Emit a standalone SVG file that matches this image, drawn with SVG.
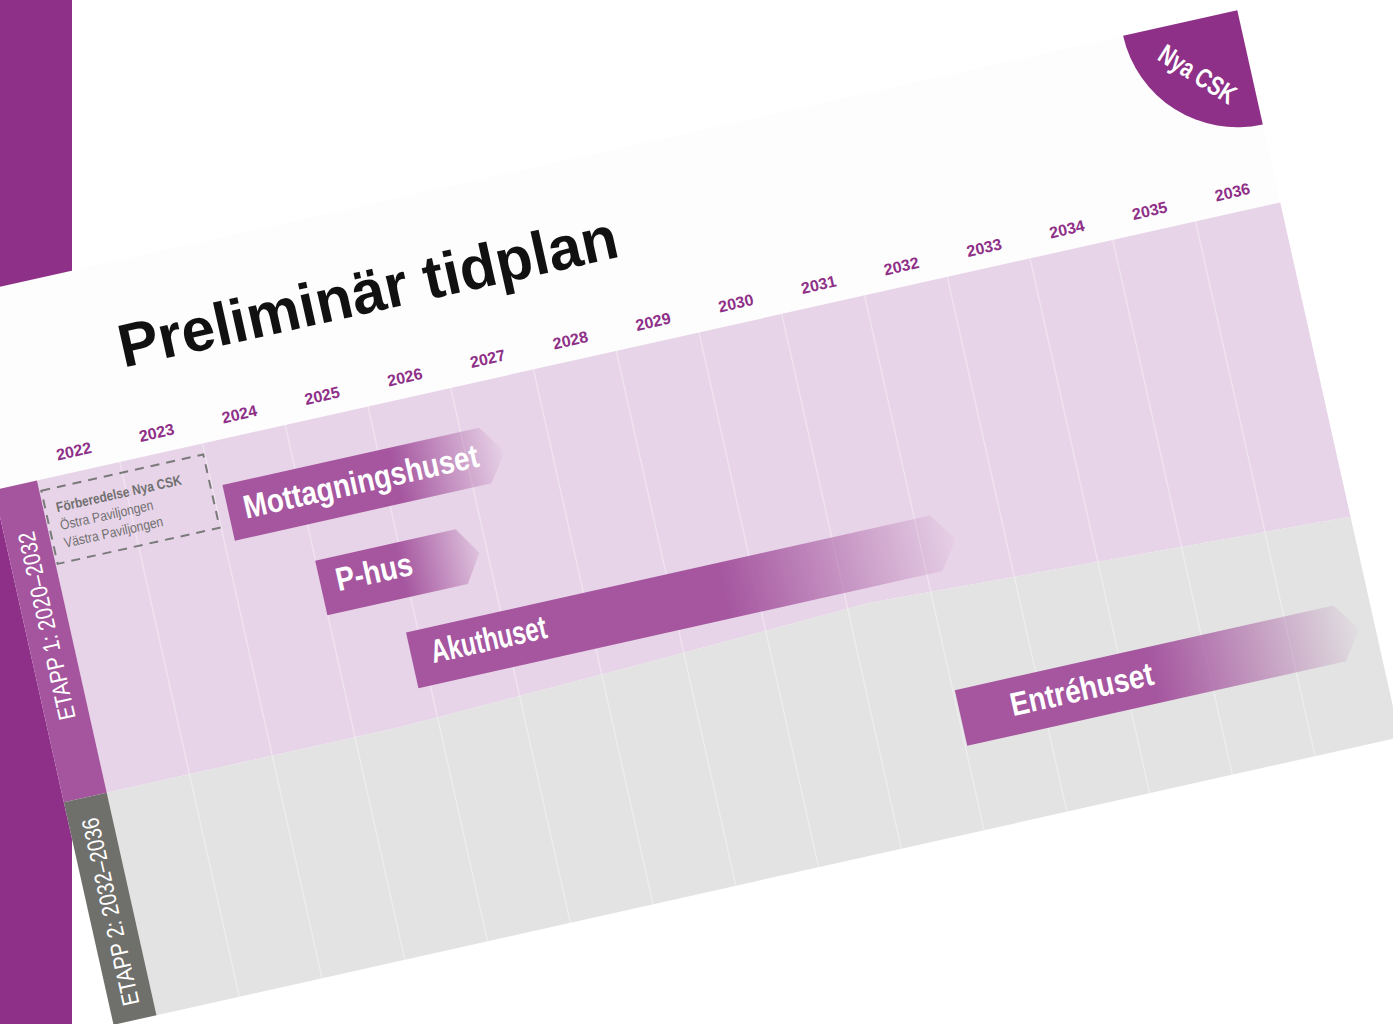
<svg xmlns="http://www.w3.org/2000/svg" width="1393" height="1024" viewBox="0 0 1393 1024">
<defs>
<style>
.yr{font-family:"Liberation Sans Narrow","Liberation Sans",Roboto,sans-serif;font-weight:bold;font-size:16px;fill:#8E2F88;text-anchor:middle}
.bar{font-family:"Liberation Sans Narrow","Liberation Sans",Roboto,sans-serif;font-weight:bold;font-size:33px;fill:#FFFFFF}
.etapp{font-family:"Liberation Sans Narrow","Liberation Sans",Roboto,sans-serif;font-size:24px;fill:#FFFFFF;text-anchor:middle}
.box{font-family:"Liberation Sans Narrow","Liberation Sans",Roboto,sans-serif;font-size:14px;fill:#707070}
.grid{stroke:#FFFFFF;stroke-opacity:0.4;stroke-width:1.2}
</style>
<linearGradient id="gM" gradientUnits="userSpaceOnUse" x1="395" y1="0" x2="508" y2="0">
<stop offset="0" stop-color="#A5569F" stop-opacity="1"/><stop offset="1" stop-color="#A5569F" stop-opacity="0"/>
</linearGradient>
<linearGradient id="gP" gradientUnits="userSpaceOnUse" x1="380" y1="0" x2="464" y2="0">
<stop offset="0" stop-color="#A5569F" stop-opacity="1"/><stop offset="1" stop-color="#A5569F" stop-opacity="0.1"/>
</linearGradient>
<linearGradient id="gA" gradientUnits="userSpaceOnUse" x1="690" y1="0" x2="935" y2="0">
<stop offset="0" stop-color="#A5569F" stop-opacity="1"/><stop offset="1" stop-color="#A5569F" stop-opacity="0"/>
</linearGradient>
<linearGradient id="gE" gradientUnits="userSpaceOnUse" x1="1090" y1="0" x2="1308" y2="0">
<stop offset="0" stop-color="#A5569F" stop-opacity="1"/><stop offset="1" stop-color="#A5569F" stop-opacity="0"/>
</linearGradient>
</defs>
<rect x="0" y="0" width="1393" height="1024" fill="#FFFFFF"/>
<rect x="0" y="0" width="72" height="1024" fill="#8E2F88"/>
<g transform="translate(-6,490) rotate(-12.6)">
  <g id="slide">
    <rect x="0" y="-197" width="1318" height="745" fill="#FDFDFD"/>
    <polygon points="44,0 1318,0 1318,322 830,301 600,311 344,320 44,320" fill="#E8D4E8"/>
    <polygon points="44,320 344,320 600,311 830,301 1318,322 1318,548 44,548" fill="#E3E3E3"/>
  </g>
  <g id="grid">
    <line class="grid" x1="128.8" y1="0" x2="128.8" y2="548"/>
    <line class="grid" x1="213.6" y1="0" x2="213.6" y2="548"/>
    <line class="grid" x1="298.4" y1="0" x2="298.4" y2="548"/>
    <line class="grid" x1="383.2" y1="0" x2="383.2" y2="548"/>
    <line class="grid" x1="468" y1="0" x2="468" y2="548"/>
    <line class="grid" x1="552.8" y1="0" x2="552.8" y2="548"/>
    <line class="grid" x1="637.6" y1="0" x2="637.6" y2="548"/>
    <line class="grid" x1="722.4" y1="0" x2="722.4" y2="548"/>
    <line class="grid" x1="807.2" y1="0" x2="807.2" y2="548"/>
    <line class="grid" x1="892" y1="0" x2="892" y2="548"/>
    <line class="grid" x1="976.8" y1="0" x2="976.8" y2="548"/>
    <line class="grid" x1="1061.6" y1="0" x2="1061.6" y2="548"/>
    <line class="grid" x1="1146.4" y1="0" x2="1146.4" y2="548"/>
    <line class="grid" x1="1231.2" y1="0" x2="1231.2" y2="548"/>
  </g>
  <g id="title">
    <text x="153" y="-91" font-family="'Liberation Sans',Arial,sans-serif" font-weight="bold" font-size="61" fill="#111111" textLength="510" lengthAdjust="spacingAndGlyphs">Preliminär tidplan</text>
  </g>
  <g id="years">
    <text class="yr" x="86.4" y="-15">2022</text>
    <text class="yr" x="171.2" y="-15">2023</text>
    <text class="yr" x="256" y="-15">2024</text>
    <text class="yr" x="340.8" y="-15">2025</text>
    <text class="yr" x="425.6" y="-15">2026</text>
    <text class="yr" x="510.4" y="-15">2027</text>
    <text class="yr" x="595.2" y="-15">2028</text>
    <text class="yr" x="680" y="-15">2029</text>
    <text class="yr" x="764.8" y="-15">2030</text>
    <text class="yr" x="849.6" y="-15">2031</text>
    <text class="yr" x="934.4" y="-15">2032</text>
    <text class="yr" x="1019.2" y="-15">2033</text>
    <text class="yr" x="1104" y="-15">2034</text>
    <text class="yr" x="1188.8" y="-15">2035</text>
    <text class="yr" x="1273.6" y="-15">2036</text>
  </g>
  <g id="logo">
    <path d="M1201,-197 A117,117 0 0 0 1318,-80 L1318,-197 Z" fill="#8E2F88"/>
    <text transform="translate(1265,-143) rotate(45)" x="0" y="9" font-family="'Liberation Sans Narrow','Liberation Sans',Roboto,sans-serif" font-weight="bold" font-size="27" fill="#FFFFFF" text-anchor="middle" textLength="86" lengthAdjust="spacingAndGlyphs">Nya CSK</text>
  </g>
  <g id="etapp1">
    <rect x="0" y="0" width="44" height="320" fill="#A4559E"/>
    <text class="etapp" transform="translate(22,144) rotate(-90)" x="0" y="8" textLength="192" lengthAdjust="spacingAndGlyphs">ETAPP 1: 2020–2032</text>
  </g>
  <g id="etapp2">
    <rect x="0" y="320" width="44" height="228" fill="#6F6F6B"/>
    <text class="etapp" transform="translate(22,437) rotate(-90)" x="0" y="8" textLength="192" lengthAdjust="spacingAndGlyphs">ETAPP 2: 2032–2036</text>
  </g>
  <g id="forberedelse">
    <rect x="46" y="11" width="166" height="75" fill="none" stroke="#7A7A7A" stroke-width="2" stroke-dasharray="9 7"/>
    <text class="box" x="57" y="35.5" font-weight="bold" fill="#666666" textLength="128" lengthAdjust="spacingAndGlyphs">Förberedelse Nya CSK</text>
    <text class="box" x="57" y="53.8" textLength="95" lengthAdjust="spacingAndGlyphs">Östra Paviljongen</text>
    <text class="box" x="57" y="72" textLength="101" lengthAdjust="spacingAndGlyphs">Västra Paviljongen</text>
  </g>
  <g id="mottagningshuset">
    <polygon points="224,45 487,45 507,73.5 487,102 224,102" fill="url(#gM)"/>
    <text class="bar" x="240" y="83" textLength="240" lengthAdjust="spacingAndGlyphs">Mottagningshuset</text>
  </g>
  <g id="phus">
    <polygon points="298,139 442,139 460,167 442,195 298,195" fill="url(#gP)"/>
    <text class="bar" x="314" y="174" textLength="78" lengthAdjust="spacingAndGlyphs">P-hus</text>
  </g>
  <g id="akuthuset">
    <polygon points="371,229 908,229 928,257.5 908,286 371,286" fill="url(#gA)"/>
    <text class="bar" x="391" y="265" textLength="118" lengthAdjust="spacingAndGlyphs">Akuthuset</text>
  </g>
  <g id="entrehuset">
    <polygon points="894,405 1282,405 1302,433.5 1282,462 894,462" fill="url(#gE)"/>
    <text class="bar" x="945" y="443" textLength="146" lengthAdjust="spacingAndGlyphs">Entréhuset</text>
  </g>
</g>
</svg>
